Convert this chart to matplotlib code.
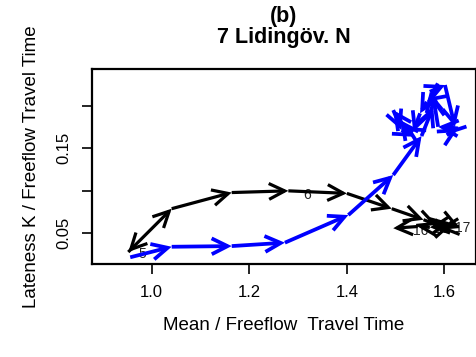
import matplotlib
matplotlib.use("Agg")
import matplotlib.pyplot as plt

plt.rcParams['font.family'] = ['Liberation Sans', 'DejaVu Sans']

# black path
black_x = [0.962, 0.952, 1.041, 1.164, 1.280, 1.400, 1.492, 1.557, 1.585, 1.610, 1.630, 1.590, 1.615, 1.570, 1.545, 1.495]
black_y = [0.034, 0.028, 0.079, 0.098, 0.100, 0.097, 0.079, 0.066, 0.060, 0.063, 0.058, 0.056, 0.060, 0.057, 0.058, 0.056]

# blue path
blue_x = [0.956, 1.041, 1.164, 1.273, 1.403, 1.495, 1.553, 1.577, 1.570, 1.601, 1.6215, 1.6045, 1.628,
          1.587, 1.577, 1.5635, 1.550, 1.536, 1.519, 1.509, 1.495, 1.512, 1.536]
blue_y = [0.0218, 0.0342, 0.035, 0.039, 0.0715, 0.1186, 0.1645, 0.199, 0.2166, 0.2245, 0.1754, 0.1657, 0.1735,
          0.1754, 0.2107, 0.2048, 0.1912, 0.1695, 0.1754, 0.1833, 0.195, 0.1715, 0.1637]

# hour labels
lab_text = ["5", "6", "16", "15", "17"]
lab_x = [0.972, 1.310, 1.536, 1.578, 1.622]
lab_y = [0.026, 0.095, 0.053, 0.055, 0.056]

x_ticks = [1.0, 1.2, 1.4, 1.6]
x_ticklabels = ["1.0", "1.2", "1.4", "1.6"]
y_ticks = [0.05, 0.10, 0.15, 0.20]
y_ticklabels = ["0.05", "", "0.15", ""]

fig = plt.figure(figsize=(4.77, 3.57), dpi=100)
ax = fig.add_axes([0.1929, 0.2605, 0.805, 0.546])
ax.set_xlim(0.8777, 1.6646)
ax.set_ylim(0.0139, 0.2433)


def draw_path(xs, ys, color, lw):
    for i in range(len(xs) - 1):
        ax.annotate('', xy=(xs[i + 1], ys[i + 1]), xytext=(xs[i], ys[i]),
                    arrowprops=dict(arrowstyle='->,head_length=0.6,head_width=0.3',
                                    color=color, lw=lw, shrinkA=0, shrinkB=0,
                                    mutation_scale=19, joinstyle='miter', capstyle='butt'))


for t, x, y in zip(lab_text, lab_x, lab_y):
    ax.text(x, y, t, fontsize=10, color='#222222', ha='left', va='center')

draw_path(black_x, black_y, 'black', 2.3)
draw_path(blue_x, blue_y, '#0000FF', 2.7)

ax.set_xticks(x_ticks)
ax.set_xticklabels(x_ticklabels, fontsize=12)
ax.set_yticks(y_ticks)
ax.set_yticklabels(y_ticklabels, fontsize=12, rotation=90, va='center')
ax.tick_params(direction='out', length=7, width=1.2, pad=8)
for s in ax.spines.values():
    s.set_linewidth(1.6)

ax.set_xlabel("Mean / Freeflow  Travel Time", fontsize=13.5, labelpad=12)
ax.set_ylabel("Lateness K / Freeflow Travel Time", fontsize=13.5, labelpad=12)
fig.text(0.5954, 0.955, "(b)", fontsize=15.5, fontweight='bold', ha='center', va='center')
fig.text(0.5954, 0.895, "7 Lidingöv. N", fontsize=15.5, fontweight='bold', ha='center', va='center')

fig.savefig("out.png", dpi=100)
